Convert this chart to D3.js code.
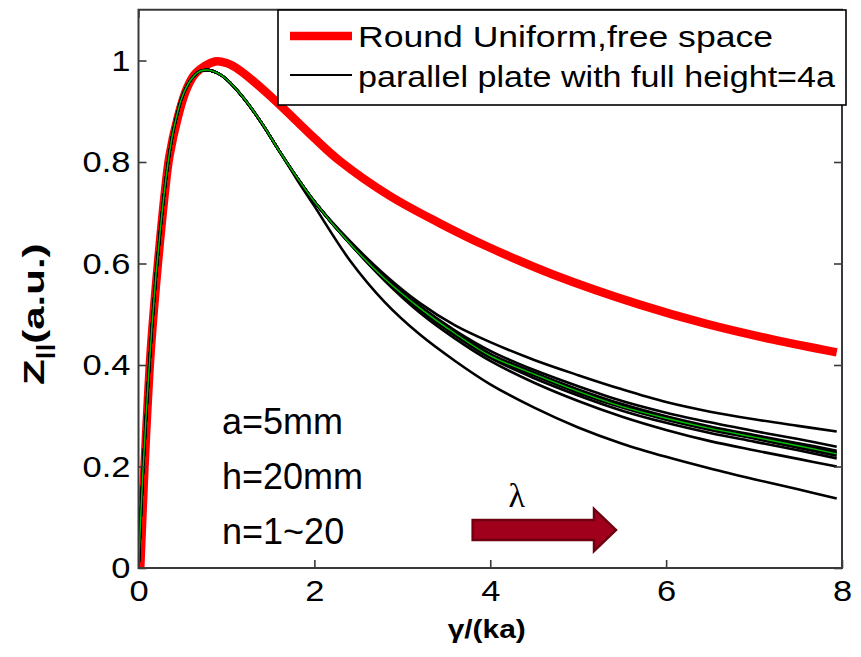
<!DOCTYPE html>
<html><head><meta charset="utf-8">
<script src="https://cdn.jsdelivr.net/npm/d3@7"></script>
<style>
html,body{margin:0;padding:0;background:#fff;}
svg{display:block;font-family:"Liberation Sans",Arial,sans-serif;}
</style></head>
<body>
<svg id="chart" width="861" height="657"></svg>
<script>
// ---------------- data ----------------
const xTicks = [0, 2, 4, 6, 8];
const yTicks = [0, 0.2, 0.4, 0.6, 0.8, 1];
const legendLabels = ["Round Uniform,free space", "parallel plate with full height=4a"];
const noteLines = ["a=5mm", "h=20mm", "n=1~20"];

// Round uniform beam, free space (red)
const redX = [0.02,0.066,0.1,0.14,0.2,0.245,0.3,0.35,0.45,0.55,0.65,0.87,1.0,1.15,1.53,2.0,2.29,2.86,3.43,3.96,4.72,5.70,6.46,7.22,7.94];
const redY = [0,0.19,0.31,0.43,0.56,0.645,0.74,0.81,0.89,0.945,0.975,0.998,0.995,0.981,0.925,0.847,0.802,0.733,0.679,0.634,0.578,0.519,0.481,0.450,0.425];

// parallel plate curves, n = 1..20 (black), common x grid
const gridX = [0,0.05,0.1,0.15,0.2,0.25,0.3,0.35,0.4,0.5,0.6,0.7,0.8,0.9,1.0,1.2,1.4,1.6,1.8,2.0,2.4,2.8,3.2,3.6,4.0,4.5,5.0,5.5,6.0,6.5,7.0,7.5,7.94];
const rise = [0,0.19,0.34,0.47,0.58,0.67,0.75,0.815,0.865,0.93,0.963,0.979,0.981,0.975,0.963,0.925,0.877,0.822];
const plateN1  = rise.concat([0.766,0.713,0.607,0.524,0.460,0.408,0.362,0.316,0.277,0.245,0.219,0.196,0.175,0.155,0.137]);
const plateN2  = rise.concat([0.770,0.722,0.645,0.578,0.522,0.478,0.445,0.410,0.380,0.352,0.327,0.308,0.293,0.280,0.269]);
const plateN3  = rise.concat([0.770,0.722,0.640,0.566,0.503,0.452,0.408,0.365,0.329,0.298,0.272,0.250,0.232,0.215,0.200]);
const plateN4  = rise.concat([0.770,0.722,0.642,0.574,0.516,0.468,0.428,0.390,0.358,0.329,0.306,0.287,0.270,0.254,0.239]);
const plateN5  = rise.concat([0.770,0.722,0.640,0.568,0.508,0.458,0.414,0.374,0.340,0.310,0.286,0.266,0.249,0.232,0.216]);
const plateN6  = rise.concat([0.770,0.722,0.641,0.572,0.514,0.466,0.422,0.385,0.352,0.323,0.299,0.279,0.262,0.246,0.231]);
const plateN7  = rise.concat([0.770,0.722,0.640,0.569,0.511,0.461,0.416,0.379,0.345,0.316,0.292,0.272,0.255,0.237,0.221]);
const plateN8  = rise.concat([0.770,0.722,0.641,0.571,0.513,0.464,0.420,0.384,0.350,0.320,0.297,0.277,0.260,0.244,0.228]);
const plateN20 = rise.concat([0.770,0.722,0.640,0.570,0.512,0.462,0.418,0.382,0.348,0.318,0.295,0.275,0.258,0.241,0.225]);
const blackSeries = [plateN1, plateN2, plateN3, plateN4, plateN5, plateN6, plateN7, plateN8, plateN20];
const greenSeries = plateN20;

// ---------------- drawing ----------------
const svg = d3.select("#chart");
const x = d3.scaleLinear().domain([0, 8]).range([138.5, 842]);
const y = d3.scaleLinear().domain([0, 1.1]).range([568, 9.75]);
const SX = 1.15; // text in the original is drawn wider than normal
const font = '"Liberation Sans",Arial,sans-serif';

const line = d3.line().x(d => x(d[0])).y(d => y(d[1])).curve(d3.curveCatmullRom.alpha(0.5));
svg.append("clipPath").attr("id","clip").append("rect")
  .attr("x", x(0)).attr("y", y(1.1)).attr("width", x(8)-x(0)).attr("height", y(0)-y(1.1));
const plot = svg.append("g").attr("clip-path","url(#clip)");

plot.append("path").datum(redX.map((v,i)=>[v, redY[i]]))
  .attr("d", line).attr("fill","none").attr("stroke","#ff0000").attr("stroke-width",8.5)
  .attr("stroke-linejoin","round");
blackSeries.forEach(s => {
  plot.append("path").datum(gridX.map((v,i)=>[v, s[i]]))
    .attr("d", line).attr("fill","none").attr("stroke","#000").attr("stroke-width",2.6);
});
plot.append("path").datum(gridX.map((v,i)=>[v, greenSeries[i]]))
  .attr("d", line).attr("fill","none").attr("stroke","#00c000").attr("stroke-width",1.4);

// axes
const axisCol = "#3a3a3a";
const gx = svg.append("g").attr("transform",`translate(0,${y(0)})`)
  .call(d3.axisBottom(x).tickValues(xTicks).tickFormat(d3.format("d")).tickSizeInner(-8).tickSizeOuter(0).tickPadding(12));
const gy = svg.append("g").attr("transform",`translate(${x(0)},0)`)
  .call(d3.axisLeft(y).tickValues(yTicks).tickFormat(d => d === 0 ? "0" : (d === 1 ? "1" : d3.format(".1f")(d))).tickSizeInner(-8).tickSizeOuter(0).tickPadding(7));
const gt = svg.append("g").attr("transform",`translate(0,${y(1.1)})`)
  .call(d3.axisTop(x).tickValues(xTicks).tickFormat("").tickSizeInner(-8).tickSizeOuter(0));
const gr = svg.append("g").attr("transform",`translate(${x(8)},0)`)
  .call(d3.axisRight(y).tickValues(yTicks).tickFormat("").tickSizeInner(-8).tickSizeOuter(0));
[gx,gy,gt,gr].forEach(g => {
  g.select(".domain").remove();
  g.selectAll(".tick line").attr("stroke", axisCol).attr("stroke-width",1.6);
  g.selectAll("text").attr("font-family", font).attr("font-size",30).attr("fill","#000");
});
gx.selectAll(".tick text").attr("transform", `scale(${SX},1)`);
gy.selectAll(".tick text").attr("transform", `scale(${SX},1)`);

svg.append("rect").attr("x", x(0)).attr("y", y(1.1)).attr("width", x(8)-x(0)).attr("height", y(0)-y(1.1))
  .attr("fill","none").attr("stroke",axisCol).attr("stroke-width",2);

// axis titles
svg.append("text").attr("transform",`translate(${x(3.96)},638) scale(${SX},1)`)
  .attr("text-anchor","middle").attr("font-family",font).attr("font-weight","bold").attr("font-size",26)
  .text("γ/(ka)");
const yl = svg.append("text").attr("transform",`translate(44,${y(0.5)}) rotate(-90) scale(1.4,1)`)
  .attr("text-anchor","middle").attr("font-family",font).attr("font-weight","bold").attr("font-size",30);
yl.append("tspan").text("Z");
yl.append("tspan").attr("font-size",20).attr("dy",7).text("||");
yl.append("tspan").attr("dy",-7).text("(a.u.)");

// legend
const lg = svg.append("g");
lg.append("rect").attr("x",278).attr("y",10).attr("width",568).attr("height",95)
  .attr("fill","#fff").attr("stroke","#000").attr("stroke-width",1.6);
lg.append("line").attr("x1",290).attr("x2",352).attr("y1",36).attr("y2",36).attr("stroke","#ff0000").attr("stroke-width",8.5);
lg.append("line").attr("x1",290).attr("x2",352).attr("y1",75).attr("y2",75).attr("stroke","#000").attr("stroke-width",2);
const legendLen = [415, 477];
legendLabels.forEach((t,i) => {
  lg.append("text").attr("x",358).attr("y",47+i*40)
    .attr("textLength", legendLen[i]).attr("lengthAdjust","spacingAndGlyphs")
    .attr("font-family",font).attr("font-size",30).text(t);
});

// notes
noteLines.forEach((t,i) => {
  svg.append("text").attr("x", x(0.95)).attr("y", 434+i*55)
    .attr("font-family",font).attr("font-size",36).text(t);
});

// lambda arrow
svg.append("text").attr("transform",`translate(${x(4.3)},507)`)
  .attr("text-anchor","middle").attr("font-family",'"Liberation Serif","Times New Roman",serif').attr("font-size",34).text("λ");
const ax0 = x(3.80), ax1 = x(5.18), ax2 = x(5.43);
const ay = 530;
svg.append("path")
  .attr("d", `M${ax0},${ay-10}L${ax1},${ay-10}L${ax1},${ay-21}L${ax2},${ay}L${ax1},${ay+21}L${ax1},${ay+10}L${ax0},${ay+10}Z`)
  .attr("fill","#a0001c").attr("stroke","#6e0012").attr("stroke-width",2.5).attr("stroke-linejoin","miter");
</script>
</body></html>
